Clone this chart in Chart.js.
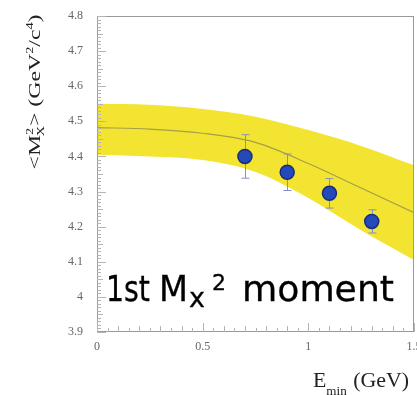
<!DOCTYPE html>
<html>
<head>
<meta charset="utf-8">
<script src="https://cdn.jsdelivr.net/npm/chart.js@4/dist/chart.umd.min.js"></script>
<style>
  html, body { margin: 0; padding: 0; background: #fff; }
  #wrap { width: 417px; height: 395px; position: relative; }
</style>
</head>
<body>
<div id="wrap"><canvas id="momentChart"></canvas></div>
<script>
// theory band (E_min in GeV vs <Mx^2>)
const bandE = [0, 0.25, 0.5, 0.75, 1.0, 1.25, 1.5];
const bandHigh = [4.55, 4.547, 4.535, 4.513, 4.475, 4.43, 4.375];
const bandCenter = [4.482, 4.478, 4.466, 4.44, 4.38, 4.31, 4.24];
const bandLow = [4.405, 4.40, 4.39, 4.356, 4.282, 4.19, 4.105];

// measured points
const pointE = [0.7, 0.9, 1.1, 1.3];
const pointM = [4.40, 4.355, 4.295, 4.215];
const pointErr = [0.062, 0.052, 0.042, 0.033];

// axis ticks
const xTicks = [0, 0.5, 1, 1.5];
const xTickLabels = ['0', '0.5', '1', '1.5'];
const yTicks = [3.9, 4.0, 4.1, 4.2, 4.3, 4.4, 4.5, 4.6, 4.7, 4.8];
const yTickLabels = ['3.9', '4', '4.1', '4.2', '4.3', '4.4', '4.5', '4.6', '4.7', '4.8'];

const SERIF = '"Liberation Serif", "DejaVu Serif", serif';
const SANS = '"DejaVu Sans", sans-serif';

function toXY(xs, ys) {
	return xs.map((x, i) => ({ x: x, y: ys[i] }));
}

// draws pieces of text with sub/superscripts, returns width
function drawParts(ctx, parts, x, y, size, measureOnly) {
	let cx = x;
	for (const p of parts) {
		const s = p.scale ? size * p.scale : size;
		ctx.font = s + 'px ' + (p.family || SERIF);
		const w = ctx.measureText(p.t).width;
		if (!measureOnly) ctx.fillText(p.t, cx + (p.dx || 0), y + (p.dy || 0) * size);
		cx += w + (p.dx || 0) + (p.adv || 0);
	}
	return cx - x;
}

// one word squeezed to a given width
function fitText(ctx, txt, x, y, size, width) {
	ctx.font = size + 'px ' + SANS;
	const w = ctx.measureText(txt).width;
	ctx.save();
	ctx.translate(x, y);
	ctx.scale(width / w, 1);
	ctx.fillText(txt, 0, 0);
	ctx.lineWidth = 0.3;
	ctx.strokeStyle = '#000';
	ctx.strokeText(txt, 0, 0);
	ctx.restore();
}

const decor = {
	id: 'decor',
	beforeDatasetDraw(chart, args) {
		if (args.index !== 3) return;
		const ctx = chart.ctx;
		const xs = chart.scales.x, ys = chart.scales.y;
		ctx.save();
		ctx.strokeStyle = '#8490c4';
		ctx.lineWidth = 1;
		pointE.forEach((e, i) => {
			const px = Math.round(xs.getPixelForValue(e)) + 0.5;
			const top = ys.getPixelForValue(pointM[i] + pointErr[i]);
			const bot = ys.getPixelForValue(pointM[i] - pointErr[i]);
			ctx.beginPath();
			ctx.moveTo(px, top); ctx.lineTo(px, bot);
			ctx.moveTo(px - 4, top); ctx.lineTo(px + 4, top);
			ctx.moveTo(px - 4, bot); ctx.lineTo(px + 4, bot);
			ctx.stroke();
		});
		ctx.restore();
	},
	afterDatasetsDraw(chart) {
		const ctx = chart.ctx;
		const a = chart.chartArea;
		const xs = chart.scales.x, ys = chart.scales.y;
		ctx.save();
		ctx.strokeStyle = '#9a9a9a';
		ctx.lineWidth = 1;
		ctx.strokeRect(a.left + 0.5, a.top + 0.5, a.right - a.left - 1, a.bottom - a.top - 1);
		// minor / major ticks, pointing inwards
		ctx.strokeStyle = '#b4b4b4';
		ctx.beginPath();
		for (let k = 0; k <= 90; k++) {
			const py = Math.round(ys.getPixelForValue(3.9 + k * 0.01)) + 0.5;
			const len = k % 10 === 0 ? 9 : (k % 5 === 0 ? 6 : 4);
			ctx.moveTo(a.left, py); ctx.lineTo(a.left + len, py);
		}
		for (let k = 0; k <= 30; k++) {
			const px = Math.round(xs.getPixelForValue(k * 0.05)) + 0.5;
			const len = k % 10 === 0 ? 9 : (k % 2 === 0 ? 6 : 4);
			ctx.moveTo(px, a.bottom); ctx.lineTo(px, a.bottom - len);
		}
		ctx.stroke();
		ctx.restore();
	},
	afterDraw(chart) {
		const ctx = chart.ctx;
		ctx.save();
		ctx.fillStyle = '#222';
		ctx.textBaseline = 'alphabetic';
		ctx.textAlign = 'left';

		// y title, rotated
		const ySize = 17;
		const yParts = [
			{ t: '<M' },
			{ t: '2', scale: 0.6, dy: -0.4, adv: -0.36 * ySize },
			{ t: 'X', scale: 0.6, dy: 0.25 },
			{ t: '> (GeV' },
			{ t: '2', scale: 0.6, dy: -0.4 },
			{ t: '/c' },
			{ t: '4', scale: 0.6, dy: -0.4 },
			{ t: ')' }
		];
		const yw = drawParts(ctx, yParts, 0, 0, ySize, true);
		ctx.translate(40, 92);
		ctx.rotate(-Math.PI / 2);
		ctx.scale(155 / yw, 1);
		drawParts(ctx, yParts, -yw / 2, 0, ySize, false);
		ctx.setTransform(1, 0, 0, 1, 0, 0);

		// x title
		const xParts = [
			{ t: 'E' },
			{ t: 'min', scale: 0.6, dy: 0.38, adv: 1 },
			{ t: ' (GeV)' }
		];
		const xw = drawParts(ctx, xParts, 0, 0, 21, true);
		ctx.translate(313, 387);
		ctx.scale(96 / xw, 1);
		drawParts(ctx, xParts, 0, 0, 21, false);
		ctx.setTransform(1, 0, 0, 1, 0, 0);

		// big overlay label: 1st Mx^2 moment
		ctx.fillStyle = '#000';
		fitText(ctx, '1st', 106, 301, 35, 44);
		fitText(ctx, 'M', 159, 301, 35, 29);
		fitText(ctx, 'x', 189, 307, 27, 16);
		fitText(ctx, '2', 212, 290, 21, 14);
		fitText(ctx, 'moment', 242, 301, 35, 152);
		ctx.restore();
	}
};

const ctx = document.getElementById('momentChart').getContext('2d');
const momentChart = new Chart(ctx, {
	type: 'scatter',
	data: {
		datasets: [{
			label: 'band high',
			type: 'line',
			data: toXY(bandE, bandHigh),
			borderWidth: 0,
			pointRadius: 0,
			backgroundColor: '#f4e432',
			fill: '+1',
			cubicInterpolationMode: 'monotone',
			order: 4
		}, {
			label: 'band low',
			type: 'line',
			data: toXY(bandE, bandLow),
			borderWidth: 0,
			pointRadius: 0,
			fill: false,
			cubicInterpolationMode: 'monotone',
			order: 3
		}, {
			label: 'center',
			type: 'line',
			data: toXY(bandE, bandCenter),
			borderColor: '#a39f48',
			borderWidth: 1.2,
			pointRadius: 0,
			fill: false,
			cubicInterpolationMode: 'monotone',
			order: 2
		}, {
			label: 'data',
			data: toXY(pointE, pointM),
			backgroundColor: '#2449b8',
			borderColor: '#1a2d7a',
			borderWidth: 1.5,
			pointRadius: 7,
			order: 1
		}]
	},
	options: {
		responsive: true,
		maintainAspectRatio: false,
		animation: false,
		layout: { autoPadding: false, padding: { top: 16, right: 3, left: 0, bottom: 0 } },
		plugins: {
			legend: { display: false },
			tooltip: { enabled: false }
		},
		scales: {
			x: {
				type: 'linear',
				min: 0,
				max: 1.5,
				grid: { display: false, tickLength: 0 },
				border: { display: false },
				afterBuildTicks: s => { s.ticks = xTicks.map(v => ({ value: v })); },
				afterFit: s => { s.height = 63; s.paddingLeft = 0; s.paddingRight = 0; },
				ticks: {
					callback: (v, i) => xTickLabels[i],
					color: '#666',
					font: { family: SERIF, size: 12 },
					padding: 8,
					maxRotation: 0
				}
			},
			y: {
				min: 3.9,
				max: 4.8,
				grid: { display: false, tickLength: 0 },
				border: { display: false },
				afterBuildTicks: s => { s.ticks = yTicks.map(v => ({ value: v })); },
				afterFit: s => { s.width = 97; s.paddingTop = 0; s.paddingBottom = 0; },
				ticks: {
					callback: (v, i) => yTickLabels[i],
					color: '#666',
					font: { family: SERIF, size: 12 },
					padding: 14
				}
			}
		}
	},
	plugins: [decor]
});
</script>
</body>
</html>
